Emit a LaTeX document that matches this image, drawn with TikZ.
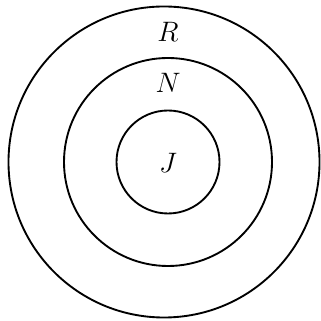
\documentclass[tikz,border=0pt]{standalone}
\usepackage{amsmath,amssymb}
\usepackage{tikz}
\usetikzlibrary{positioning}

\begin{document}
\begin{tikzpicture}[x=0.015cm,y=0.015cm,
    lab/.style={font=\fontsize{13pt}{15pt}\selectfont}]
  \useasboundingbox (0,0) rectangle (320,321); % 画像全体の枠

  \draw[thick] (164,159) circle (155.5); % 外側の円 R
  \draw[thick] (168,159) circle (104); % 中間の円 N
  \draw[thick] (168,159) circle (51.5); % 内側の円 J

  \node[lab] (labR) at (168,289) {$R$}; % 外側の円のラベル
  \node[lab] (labN) at (168,238) {$N$}; % 中間の円のラベル
  \node[lab] (labJ) at (168,158) {$J$}; % 中心のラベル
\end{tikzpicture}
\end{document}
